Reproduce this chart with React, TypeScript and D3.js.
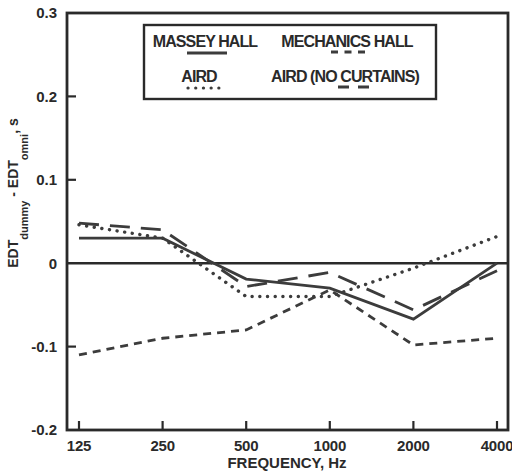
import React from "react";
import * as d3 from "d3";

const frequencies = [125, 250, 500, 1000, 2000, 4000];
const xTickLabels = ["125", "250", "500", "1000", "2000", "4000"];
const yTicks = [0.3, 0.2, 0.1, 0, -0.1, -0.2];
const yTickLabels = ["0.3", "0.2", "0.1", "0", "-0.1", "-0.2"];

const masseyHall = [0.03, 0.03, -0.019, -0.03, -0.067, 0.0];
const mechanicsHall = [-0.11, -0.09, -0.08, -0.032, -0.098, -0.09];
const aird = [0.046, 0.03, -0.04, -0.04, -0.006, 0.032];
const airdNoCurtains = [0.048, 0.04, -0.028, -0.011, -0.056, -0.009];

const seriesNames = ["MASSEY HALL", "MECHANICS HALL", "AIRD", "AIRD (NO CURTAINS)"];

const W = 512;
const H = 472;
const plot = { left: 67, right: 508, top: 13, bottom: 430 };

export default function App() {
  const x = d3.scaleLog().domain([125, 4000]).range([79, 497]);
  const y = d3.scaleLinear().domain([-0.2, 0.3]).range([plot.bottom, plot.top]);
  const line = (vals: number[]) =>
    d3
      .line<number>()
      .x((_, i) => x(frequencies[i]))
      .y((v) => y(v))(vals) || "";

  const ink = "#2a2a2a";
  const lineInk = "#3c3c3c";
  const font = "'Liberation Sans', Arial, Helvetica, sans-serif";

  const series = [
    { vals: masseyHall, dash: undefined as string | undefined, cap: "butt" },
    { vals: mechanicsHall, dash: "8,6", cap: "butt" },
    { vals: aird, dash: "0.1,7.6", cap: "round" },
    { vals: airdNoCurtains, dash: "20,11", cap: "butt" },
  ];

  const legendText = { fontSize: 16, fontWeight: "bold" as const, fill: ink, letterSpacing: -0.9 };

  return (
    <svg
      width={W}
      height={H}
      style={{ position: "absolute", left: 0, top: 0, background: "#fff" }}
      fontFamily={font}
    >
      <rect x={0} y={0} width={W} height={H} fill="#fff" />
      {/* frame */}
      <rect
        x={plot.left}
        y={plot.top}
        width={plot.right - plot.left}
        height={plot.bottom - plot.top}
        fill="none"
        stroke={ink}
        strokeWidth={2.8}
      />
      {/* zero line */}
      <line x1={plot.left} x2={plot.right} y1={y(0)} y2={y(0)} stroke={ink} strokeWidth={2.4} />
      {/* y ticks */}
      {yTicks.map((t, i) => (
        <g key={"yt" + i}>
          {t !== 0 && t !== 0.3 && t !== -0.2 && (
            <line x1={plot.left} x2={plot.left + 9} y1={y(t)} y2={y(t)} stroke={ink} strokeWidth={2.2} />
          )}
          <text
            x={57}
            y={y(t)}
            dy="0.36em"
            textAnchor="end"
            fontSize={15}
            fontWeight="bold"
            fill={ink}
          >
            {yTickLabels[i]}
          </text>
        </g>
      ))}
      {/* x ticks */}
      {frequencies.map((f, i) => (
        <g key={"xt" + i}>
          <line x1={x(f)} x2={x(f)} y1={plot.bottom} y2={plot.bottom - 9} stroke={ink} strokeWidth={2.2} />
          <text
            x={x(f)}
            y={451}
            textAnchor="middle"
            fontSize={15}
            fontWeight="bold"
            fill={ink}
            letterSpacing={-0.2}
          >
            {xTickLabels[i]}
          </text>
        </g>
      ))}
      {/* x title */}
      <text x={287} y={468} textAnchor="middle" fontSize={15} fontWeight="bold" fill={ink}>
        FREQUENCY, Hz
      </text>
      {/* y title */}
      <text
        transform="translate(18,193) rotate(-90)"
        textAnchor="middle"
        fontSize={14}
        fontWeight="bold"
        fill={ink}
      >
        <tspan>EDT</tspan>
        <tspan fontSize={11} dy={10}>dummy</tspan>
        <tspan dy={-10}> - EDT</tspan>
        <tspan fontSize={11} dy={10}>omni</tspan>
        <tspan dy={-10}>, s</tspan>
      </text>
      {/* series */}
      {series.map((s, i) => (
        <path
          key={"s" + i}
          d={line(s.vals)}
          fill="none"
          stroke={lineInk}
          strokeWidth={s.cap === "round" ? 3.4 : 2.8}
          strokeDasharray={s.dash}
          strokeLinecap={s.cap as any}
          strokeLinejoin="miter"
        />
      ))}
      {/* legend */}
      <rect x={144} y={25} width={292} height={74} fill="#fff" stroke={ink} strokeWidth={2.4} />
      <text x={205} y={47} textAnchor="middle" {...legendText}>
        {seriesNames[0]}
      </text>
      <line x1={187} x2={227} y1={53} y2={53} stroke={lineInk} strokeWidth={2.8} />
      <text x={347} y={47} textAnchor="middle" {...legendText}>
        {seriesNames[1]}
      </text>
      <line x1={331} x2={369} y1={52} y2={52} stroke={lineInk} strokeWidth={2.8} strokeDasharray="7,6.5" />
      <text x={199} y={82} textAnchor="middle" {...legendText}>
        {seriesNames[2]}
      </text>
      <line
        x1={188}
        x2={219}
        y1={88}
        y2={88}
        stroke={lineInk}
        strokeWidth={3.2}
        strokeDasharray="0.1,7.6"
        strokeLinecap="round"
      />
      <text x={345} y={82} textAnchor="middle" {...legendText}>
        {seriesNames[3]}
      </text>
      <line x1={338} x2={369} y1={87} y2={87} stroke={lineInk} strokeWidth={2.8} strokeDasharray="11,9" />
    </svg>
  );
}
